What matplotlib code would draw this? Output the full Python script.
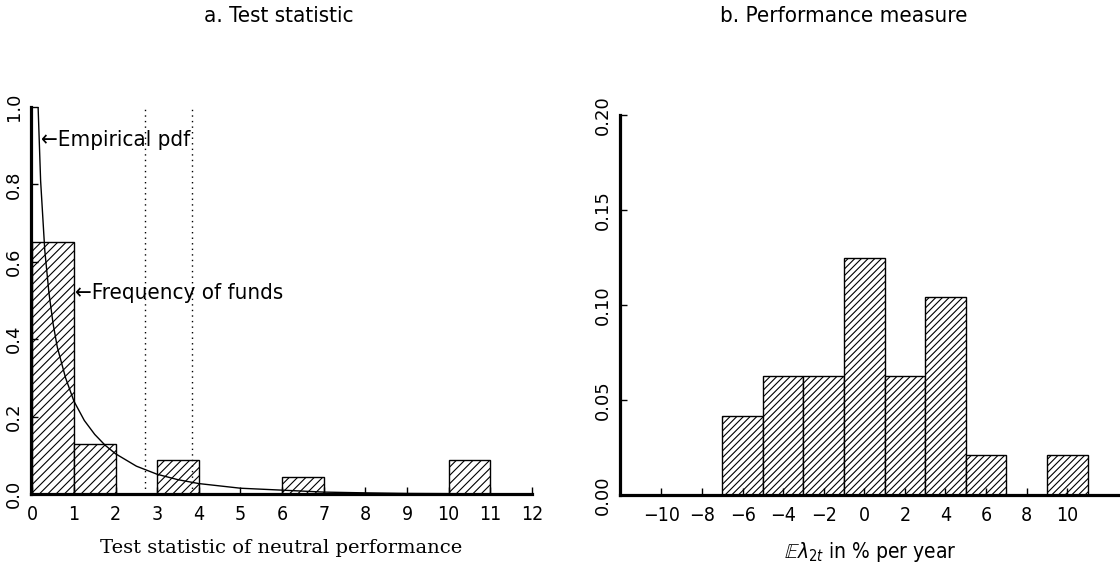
import matplotlib
matplotlib.use("Agg")
import matplotlib.pyplot as plt

# panel a: frequency of funds per unit bin of the test statistic
stat_bins = [0, 1, 2, 3, 4, 5, 6, 7, 8, 9, 10]
stat_freq = [0.652, 0.130, 0.0, 0.087, 0.0, 0.0, 0.043, 0.0, 0.0, 0.0, 0.087]
# empirical pdf
pdf_x = [0.14, 0.2, 0.3, 0.4, 0.5, 0.6, 0.8, 1.0, 1.25, 1.5, 1.75, 2.0, 2.5,
         3.0, 3.5, 4.0, 5.0, 6.0, 7.0, 8.0, 9.0, 10.0, 11.0]
pdf_y = [1.0, 0.81, 0.63, 0.52, 0.44, 0.38, 0.30, 0.24, 0.19, 0.154, 0.126,
         0.104, 0.072, 0.051, 0.037, 0.027, 0.015, 0.010, 0.005, 0.003,
         0.0015, 0.001, 0.0005]
crit_vals = [2.71, 3.84]

# panel b: performance measure histogram (bins of width 2)
perf_centers = [-10, -8, -6, -4, -2, 0, 2, 4, 6, 8, 10]
perf_dens = [0.0, 0.0, 0.0417, 0.0625, 0.0625, 0.125, 0.0625, 0.1042,
             0.0208, 0.0, 0.0208]

plt.rcParams['font.family'] = ['DejaVu Sans']
plt.rcParams['font.stretch'] = 'condensed'
plt.rcParams['hatch.linewidth'] = 0.8

fig = plt.figure(figsize=(11.2, 5.67), dpi=100)
ax1 = fig.add_axes([0.0277, 0.1287, 0.4473, 0.6826])
ax2 = fig.add_axes([0.5536, 0.127, 0.4464, 0.670])

fig.text(0.249, 0.972, "a. Test statistic", ha='center', va='center', fontsize=16)
fig.text(0.753, 0.972, "b. Performance measure", ha='center', va='center', fontsize=16)


def style_axis(ax):
    for s in ['top', 'right']:
        ax.spines[s].set_visible(False)
    for s in ['left', 'bottom']:
        ax.spines[s].set_linewidth(2.3)
    ax.tick_params(direction='in', length=5, width=1)
    ax.tick_params(axis='x', pad=8, labelsize=14)
    ax.tick_params(axis='y', pad=6, labelsize=13, labelrotation=90)
    for lab in ax.get_yticklabels():
        lab.set_verticalalignment('center')
        lab.set_stretch('normal')


# --- panel a ---
bars = ax1.bar(stat_bins, stat_freq, width=1, align='edge', color='white',
               edgecolor='black', linewidth=1.0, hatch='////')
for b, v in zip(bars, stat_freq):
    if v == 0:
        b.set_linestyle(':')
        b.set_linewidth(0.8)
ax1.plot(pdf_x, pdf_y, color='black', lw=1.0)
for c in crit_vals:
    ax1.plot([c, c], [0, 1.0], color='black', lw=1.0, ls=(0, (1, 3)))
ax1.text(0.22, 0.915, "\u2190Empirical pdf", fontsize=16, va='center', ha='left')
ax1.text(1.02, 0.52, "\u2190Frequency of funds", fontsize=16, va='center', ha='left')
ax1.set_xlim(-0.03, 12)
ax1.set_ylim(0, 1.0)
ax1.set_xticks(range(0, 13))
ax1.set_yticks([0.0, 0.2, 0.4, 0.6, 0.8, 1.0])
ax1.set_yticklabels(["0.0", "0.2", "0.4", "0.6", "0.8", "1.0"])
style_axis(ax1)
ax1.set_xlabel("Test statistic of neutral performance", family='DejaVu Serif',
               stretch='normal', fontsize=14, labelpad=11)

# --- panel b ---
bars2 = ax2.bar(perf_centers, perf_dens, width=2, color='white',
                edgecolor='black', linewidth=1.0, hatch='/////')
for b, v in zip(bars2, perf_dens):
    if v == 0:
        b.set_linestyle(':')
        b.set_linewidth(0.8)
ax2.set_xlim(-12.04, 12.6)
ax2.set_ylim(0, 0.20)
ax2.set_xticks(perf_centers)
ax2.set_xticklabels([("\u2212" + str(-v)) if v < 0 else str(v) for v in perf_centers])
ax2.set_yticks([0.0, 0.05, 0.10, 0.15, 0.20])
ax2.set_yticklabels(["0.00", "0.05", "0.10", "0.15", "0.20"])
style_axis(ax2)
ax2.set_xlabel(r"$\mathbb{E}\lambda_{2t}$ in % per year", fontsize=15, labelpad=11)

fig.savefig("out.png", dpi=100)
